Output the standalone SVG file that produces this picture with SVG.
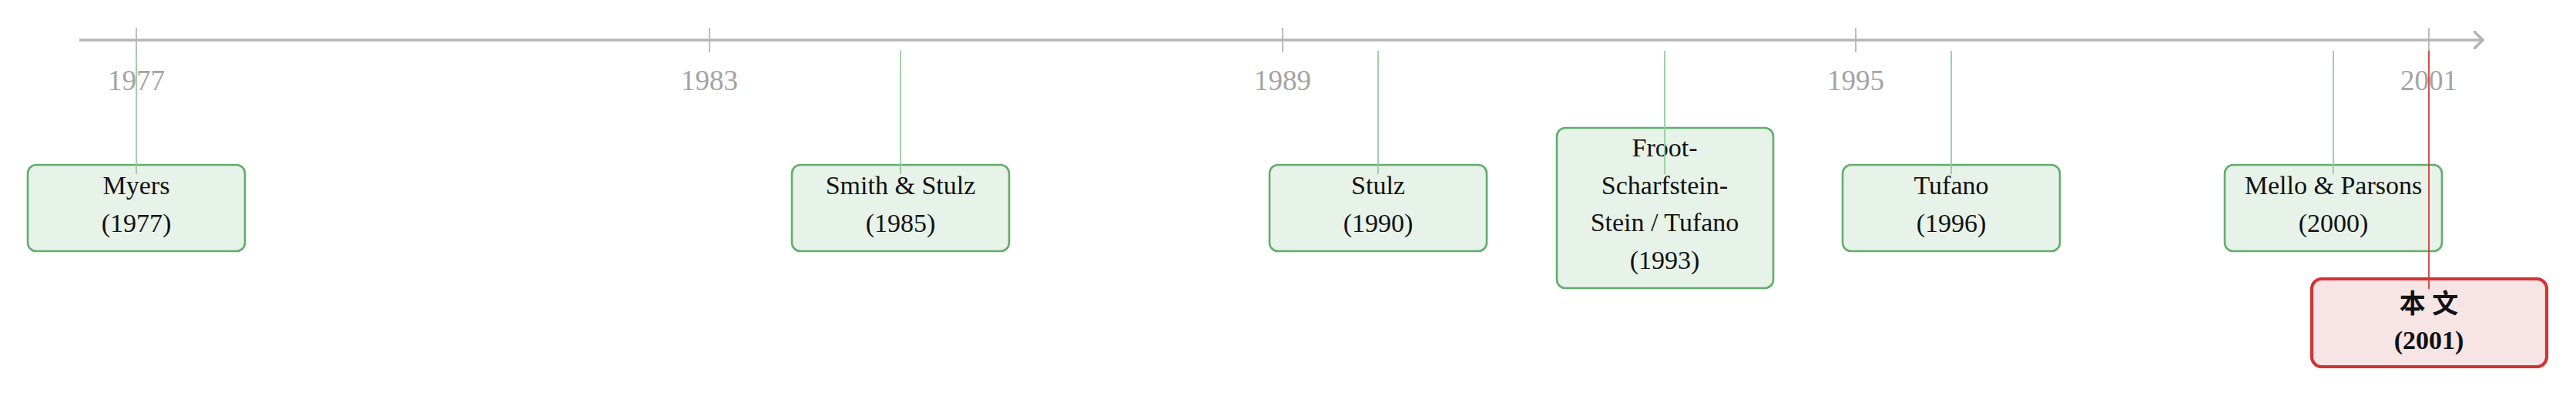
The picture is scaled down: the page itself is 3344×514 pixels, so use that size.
<svg xmlns="http://www.w3.org/2000/svg" width="3344" height="514" viewBox="0 0 3344 514">
<defs>
<marker id="arr" viewBox="0 0 14 24" refX="12" refY="12" markerWidth="14" markerHeight="24" markerUnits="userSpaceOnUse" orient="auto">
<path d="M1,1 L12,12 L1,23" fill="none" stroke="#b3b3b3" stroke-width="3.4" stroke-linecap="round" stroke-linejoin="round"/>
</marker>
</defs>
<style>
.axis{stroke:#b5b5b5;stroke-width:3.4;fill:none}
.tick{stroke:#b5b5b5;stroke-width:1.8}
.yr{font-family:"Liberation Serif",serif;font-size:37px;fill:#a3a3a3;text-anchor:middle}
.box{fill:#e7f2e8;stroke:#62ad6c;stroke-width:2.6}
.rbox{fill:#f7e4e5;stroke:#d13434;stroke-width:4.2}
.lbl{font-family:"Liberation Serif",serif;font-size:34px;fill:#111;text-anchor:middle}
.rlbl{font-family:"Liberation Serif","Noto Sans CJK SC",serif;font-size:34px;font-weight:bold;fill:#111;text-anchor:middle}
.gc{stroke:#94cba0;stroke-width:1.8;fill:none}
.rc{stroke:#d33a3a;stroke-width:1.8;fill:none}
</style>
<g id="axis">
<line class="axis" x1="103" y1="52" x2="3223" y2="52" marker-end="url(#arr)"/>
<line class="tick" x1="177" y1="36" x2="177" y2="68"/>
<line class="tick" x1="921" y1="36" x2="921" y2="68"/>
<line class="tick" x1="1665" y1="36" x2="1665" y2="68"/>
<line class="tick" x1="2409" y1="36" x2="2409" y2="68"/>
<line class="tick" x1="3153" y1="36" x2="3153" y2="68"/>
<text class="yr" x="177" y="117">1977</text>
<text class="yr" x="921" y="117">1983</text>
<text class="yr" x="1665" y="117">1989</text>
<text class="yr" x="2409" y="117">1995</text>
<text class="yr" x="3153" y="117">2001</text>
</g>
<g id="myers">
<rect class="box" x="36" y="214" width="282" height="112" rx="11"/>
<text class="lbl" x="177" y="252">Myers</text>
<text class="lbl" x="177" y="301">(1977)</text>
</g>
<g id="smith-stulz">
<rect class="box" x="1028" y="214" width="282" height="112" rx="11"/>
<text class="lbl" x="1169" y="252">Smith &amp; Stulz</text>
<text class="lbl" x="1169" y="301">(1985)</text>
</g>
<g id="stulz">
<rect class="box" x="1648" y="214" width="282" height="112" rx="11"/>
<text class="lbl" x="1789" y="252">Stulz</text>
<text class="lbl" x="1789" y="301">(1990)</text>
</g>
<g id="froot">
<rect class="box" x="2021" y="166" width="281" height="208" rx="11"/>
<text class="lbl" x="2161" y="203">Froot-</text>
<text class="lbl" x="2161" y="252">Scharfstein-</text>
<text class="lbl" x="2161" y="300">Stein / Tufano</text>
<text class="lbl" x="2161" y="349">(1993)</text>
</g>
<g id="tufano">
<rect class="box" x="2392" y="214" width="282" height="112" rx="11"/>
<text class="lbl" x="2533" y="252">Tufano</text>
<text class="lbl" x="2533" y="301">(1996)</text>
</g>
<g id="mello-parsons">
<rect class="box" x="2888" y="214" width="282" height="112" rx="11"/>
<text class="lbl" x="3029" y="252">Mello &amp; Parsons</text>
<text class="lbl" x="3029" y="301">(2000)</text>
</g>
<g id="this-paper">
<rect class="rbox" x="3001" y="362" width="305" height="114" rx="13"/>
<text class="rlbl" x="3153" y="406" font-family="'Noto Sans CJK SC',sans-serif">本 文</text>
<text class="rlbl" x="3153" y="453">(2001)</text>
</g>
<g id="connectors">
<line class="gc" x1="177" y1="66" x2="177" y2="226"/>
<line class="gc" x1="1169" y1="66" x2="1169" y2="226"/>
<line class="gc" x1="1789" y1="66" x2="1789" y2="226"/>
<line class="gc" x1="2161" y1="66" x2="2161" y2="226"/>
<line class="gc" x1="2533" y1="66" x2="2533" y2="226"/>
<line class="gc" x1="3029" y1="66" x2="3029" y2="226"/>
<line class="rc" x1="3153" y1="66" x2="3153" y2="375"/>
</g>
</svg>
